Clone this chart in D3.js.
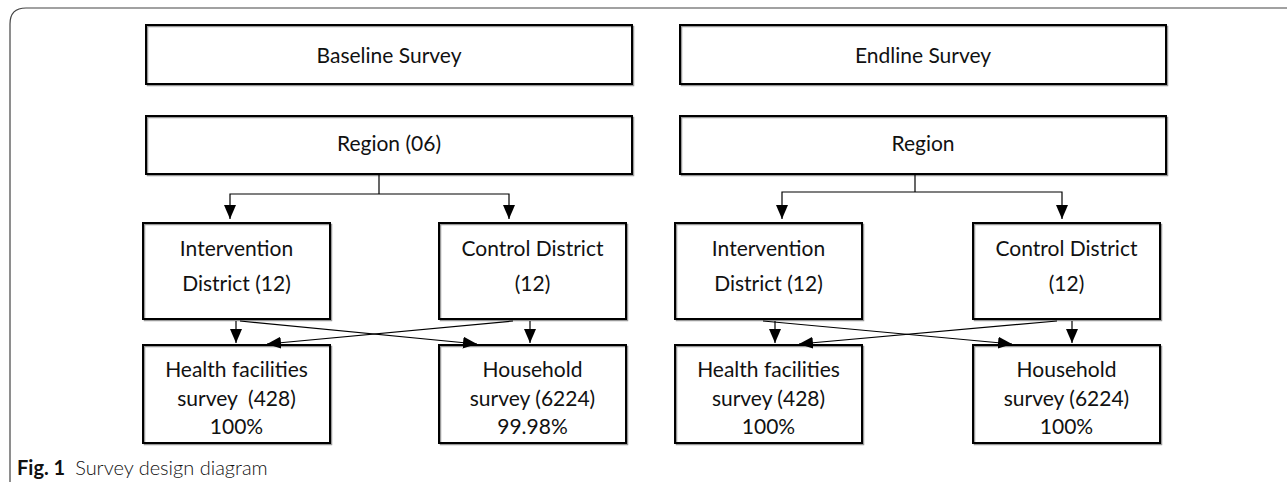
<!DOCTYPE html>
<html>
<head>
<meta charset="utf-8">
<script src="https://cdn.jsdelivr.net/npm/d3@7"></script>
<style>
  body { margin: 0; background: #fff; }
  text { font-family: Lato, "Open Sans", sans-serif; fill: #111; white-space: pre; }
</style>
</head>
<body>
<svg id="chart"></svg>
<script>
// content of the diagram
const panels = ['Baseline', 'Endline'];
const surveyTitles = ['Baseline Survey', 'Endline Survey'];
const regionLabels = ['Region (06)', 'Region'];
const districtLabels = [['Intervention', 'District (12)'], ['Control District', '(12)']];
const baselineFacilities = [['Health facilities', 'survey  (428)', '100%'], ['Household', 'survey (6224)', '99.98%']];
const endlineFacilities = [['Health facilities', 'survey (428)', '100%'], ['Household', 'survey (6224)', '100%']];
const captionBold = 'Fig. 1';
const captionText = 'Survey design diagram';

const width = 1287, height = 482;

const svg = d3.select('#chart')
    .attr('width', width)
    .attr('height', height);

// layout scales
let xTop = d3.scaleOrdinal().domain(panels).range([146, 680]),
    topW = 486;
let xSub = d3.scaleOrdinal().domain(panels).range([[143, 439], [675, 973]]),
    subW = 187;
let rows = ['survey', 'region', 'district', 'facility'];
let yRow = d3.scaleOrdinal().domain(rows).range([25, 116, 223, 345]),
    hRow = d3.scaleOrdinal().domain(rows).range([59, 58, 96, 98]);

// connector layout
let trunkX = d3.scaleOrdinal().domain(panels).range([379, 915]),
    branchX = d3.scaleOrdinal().domain(panels).range([[230, 509], [782, 1062]]),
    branchY = d3.scaleOrdinal().domain(panels).range([194, 192]),
    downX = d3.scaleOrdinal().domain(panels).range([[236, 530], [775, 1072]]),
    crossX = d3.scaleOrdinal().domain(panels).range([[[240, 477], [513, 267]], [[763, 1012], [1057, 799]]]);

// frame
svg.append('path')
    .attr('d', 'M10,' + height + ' V24 Q10,8 26,8 H' + width)
    .attr('fill', 'none')
    .attr('stroke', '#444')
    .attr('stroke-width', 1.2);

// arrow head
svg.append('defs').append('marker')
    .attr('id', 'arrow')
    .attr('markerUnits', 'userSpaceOnUse')
    .attr('viewBox', '0 0 14 12')
    .attr('markerWidth', 14)
    .attr('markerHeight', 12)
    .attr('refX', 14)
    .attr('refY', 6)
    .attr('orient', 'auto')
  .append('path')
    .attr('d', 'M0,0 L14,6 L0,12 Z')
    .attr('fill', '#000');

// collect boxes
let boxes = [];
panels.forEach((p, i) => {
  boxes.push({x: xTop(p), y: yRow('survey'), w: topW, h: hRow('survey'), lines: [surveyTitles[i]], dy: [29]});
  boxes.push({x: xTop(p), y: yRow('region'), w: topW, h: hRow('region'), lines: [regionLabels[i]], dy: [26]});
  let facilities = i === 0 ? baselineFacilities : endlineFacilities;
  xSub(p).forEach((sx, j) => {
    boxes.push({x: sx, y: yRow('district'), w: subW, h: hRow('district'), lines: districtLabels[j], dy: [24, 59]});
    boxes.push({x: sx, y: yRow('facility'), w: subW, h: hRow('facility'), lines: facilities[j], dy: [23, 52, 80]});
  });
});

let box = svg.selectAll('.box')
    .data(boxes)
  .enter().append('g')
    .attr('class', 'box')
    .attr('transform', (d) => 'translate(' + d.x + ',' + d.y + ')');

box.append('rect')
    .attr('x', 1.5)
    .attr('y', 1.5)
    .attr('width', (d) => d.w)
    .attr('height', (d) => d.h)
    .attr('fill', 'none')
    .attr('stroke', '#999')
    .attr('stroke-width', 1.5);

box.append('rect')
    .attr('width', (d) => d.w)
    .attr('height', (d) => d.h)
    .attr('fill', 'none')
    .attr('stroke', '#000')
    .attr('stroke-width', 2);

box.selectAll('text')
    .data((d) => d.lines.map((t, k) => ({t: t, x: d.w / 2, y: d.dy[k]})))
  .enter().append('text')
    .attr('x', (d) => d.x)
    .attr('y', (d) => d.y)
    .attr('text-anchor', 'middle')
    .attr('dominant-baseline', 'central')
    .style('font-size', '21px')
    .text((d) => d.t);

// connectors
panels.forEach((p) => {
  let regionBottom = yRow('region') + hRow('region');
  let districtTop = yRow('district');
  let districtBottom = yRow('district') + hRow('district');
  let facilityTop = yRow('facility');

  svg.append('path')
      .attr('d', 'M' + trunkX(p) + ',' + regionBottom + ' V' + branchY(p))
      .attr('stroke', '#000').attr('stroke-width', 1.2).attr('fill', 'none');

  branchX(p).forEach((bx) => {
    svg.append('path')
        .attr('d', 'M' + trunkX(p) + ',' + branchY(p) + ' H' + bx + ' V' + (districtTop - 4))
        .attr('stroke', '#000').attr('stroke-width', 1.2).attr('fill', 'none')
        .attr('marker-end', 'url(#arrow)');
  });

  downX(p).forEach((dx) => {
    svg.append('line')
        .attr('x1', dx).attr('x2', dx)
        .attr('y1', districtBottom + 2).attr('y2', facilityTop - 2)
        .attr('stroke', '#000').attr('stroke-width', 1.2)
        .attr('marker-end', 'url(#arrow)');
  });

  crossX(p).forEach((c) => {
    svg.append('line')
        .attr('x1', c[0]).attr('x2', c[1])
        .attr('y1', districtBottom + 2).attr('y2', facilityTop - 1)
        .attr('stroke', '#000').attr('stroke-width', 1.2)
        .attr('marker-end', 'url(#arrow)');
  });
});

// caption
let caption = svg.append('text')
    .attr('x', 17)
    .attr('y', 467)
    .attr('dominant-baseline', 'central')
    .style('font-size', '20px');

caption.append('tspan')
    .style('font-weight', 700)
    .text(captionBold);

caption.append('tspan')
    .attr('dx', 10)
    .style('font-weight', 300)
    .text(captionText);
</script>
</body>
</html>
